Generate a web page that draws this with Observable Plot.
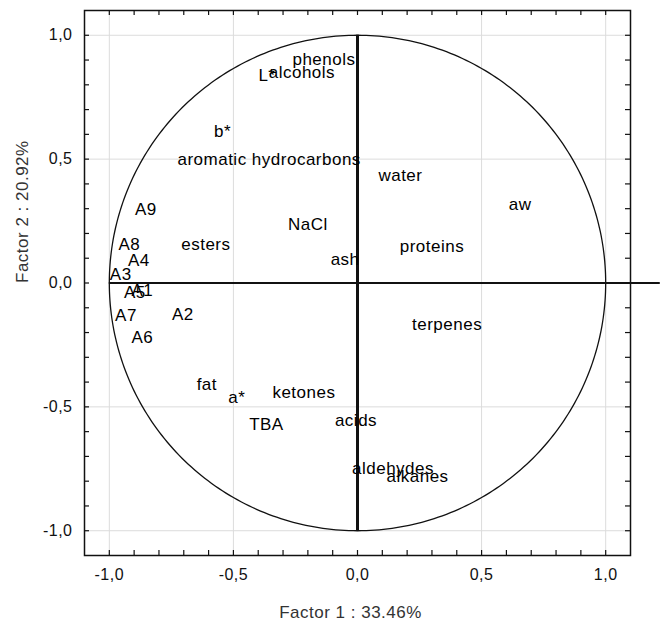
<!DOCTYPE html>
<html><head><meta charset="utf-8">
<script src="https://cdn.jsdelivr.net/npm/d3@7"></script>
<script src="https://cdn.jsdelivr.net/npm/@observablehq/plot@0.6"></script>
<style>body{margin:0;background:#fff}</style>
</head><body><div id="chart"></div>
<script>
// Variable / observation labels and their (centre) positions on Factor 1 / Factor 2
const labels = ["phenols","alcohols","L*","b*","aromatic hydrocarbons","water","aw","A9","NaCl","esters","A8","proteins","A4","ash","A3","A5","A1","A7","A2","A6","terpenes","fat","a*","ketones","TBA","acids","aldehydes","alkanes"];
const factor1 = [-0.135,-0.224,-0.365,-0.544,-0.356,0.173,0.655,-0.853,-0.200,-0.611,-0.919,0.300,-0.881,-0.050,-0.954,-0.897,-0.867,-0.933,-0.704,-0.867,0.361,-0.607,-0.486,-0.216,-0.367,-0.006,0.143,0.242];
const factor2 = [0.900,0.848,0.839,0.610,0.497,0.433,0.318,0.298,0.237,0.156,0.156,0.146,0.090,0.096,0.035,-0.040,-0.029,-0.130,-0.126,-0.219,-0.168,-0.408,-0.462,-0.442,-0.571,-0.555,-0.751,-0.781];

const majorTicks = [-1, -0.5, 0, 0.5, 1];
const gridTicks = [-1, -0.5, 0.5, 1];
const minorTicks = [-1.0,-0.9,-0.8,-0.7,-0.6,-0.5,-0.4,-0.3,-0.2,-0.1,0,0.1,0.2,0.3,0.4,0.5,0.6,0.7,0.8,0.9,1.0];
const xTitle = "Factor 1 : 33.46%";
const yTitle = "Factor 2 : 20.92%";
const zeroLineX = [-1, 1.22];
const zeroLineY = [-1, 1];
const axisDomain = [-1.1, 1.1];

const points = labels.map((label, i) => ({label, x: factor1[i], y: factor2[i]}));
const circle = d3.range(0, 361).map(a => ({x: Math.cos(a * Math.PI / 180), y: Math.sin(a * Math.PI / 180)}));
const fmt = d => d.toFixed(1).replace(".", ",");

const W = 667, H = 623, mL = 84, mR = 37, mT = 10, mB = 68;
const plotW = W - mL - mR, plotH = H - mT - mB;
const tk = 5;
const font = "'Liberation Sans', Arial, Helvetica, sans-serif";

const chart = Plot.plot({
  width: W, height: H,
  marginLeft: mL, marginRight: mR, marginTop: mT, marginBottom: mB,
  style: {fontFamily: font, background: "#fff", overflow: "visible", color: "#111", letterSpacing: "0.5px"},
  x: {domain: axisDomain},
  y: {domain: axisDomain},
  marks: [
    Plot.ruleX(gridTicks, {stroke: "#dcdcdc", strokeWidth: 1}),
    Plot.ruleY(gridTicks, {stroke: "#dcdcdc", strokeWidth: 1}),
    Plot.line(circle, {x: "x", y: "y", stroke: "#111", strokeWidth: 1.3}),
    Plot.ruleY([0], {x1: zeroLineX[0], x2: zeroLineX[1], stroke: "#111", strokeWidth: 2}),
    Plot.ruleX([0], {y1: zeroLineY[0], y2: zeroLineY[1], stroke: "#111", strokeWidth: 3}),
    Plot.frame({stroke: "#111", strokeWidth: 1.5}),
    Plot.ruleX(minorTicks, {insetTop: plotH - tk, stroke: "#111", strokeWidth: 1.2}),
    Plot.ruleX(minorTicks, {insetBottom: plotH - tk, stroke: "#111", strokeWidth: 1.2}),
    Plot.ruleY(minorTicks, {insetRight: plotW - tk, stroke: "#111", strokeWidth: 1.2}),
    Plot.ruleY(minorTicks, {insetLeft: plotW - tk, stroke: "#111", strokeWidth: 1.2}),
    Plot.axisX(majorTicks, {tickSize: 0, tickPadding: 13, tickFormat: fmt, fontSize: 16, label: null}),
    Plot.axisY(majorTicks, {tickSize: 0, tickPadding: 12, tickFormat: fmt, fontSize: 16, label: null}),
    Plot.text(points, {x: "x", y: "y", text: "label", fontSize: 17, fill: "#000"}),
    Plot.text([xTitle], {frameAnchor: "bottom", dy: 62, dx: -7, text: d => d, fontSize: 17, fill: "#333"}),
    Plot.text([yTitle], {frameAnchor: "left", dx: -62, rotate: -90, text: d => d, fontSize: 17, fill: "#333"})
  ]
});
document.getElementById("chart").appendChild(chart);
</script>
</body></html>
